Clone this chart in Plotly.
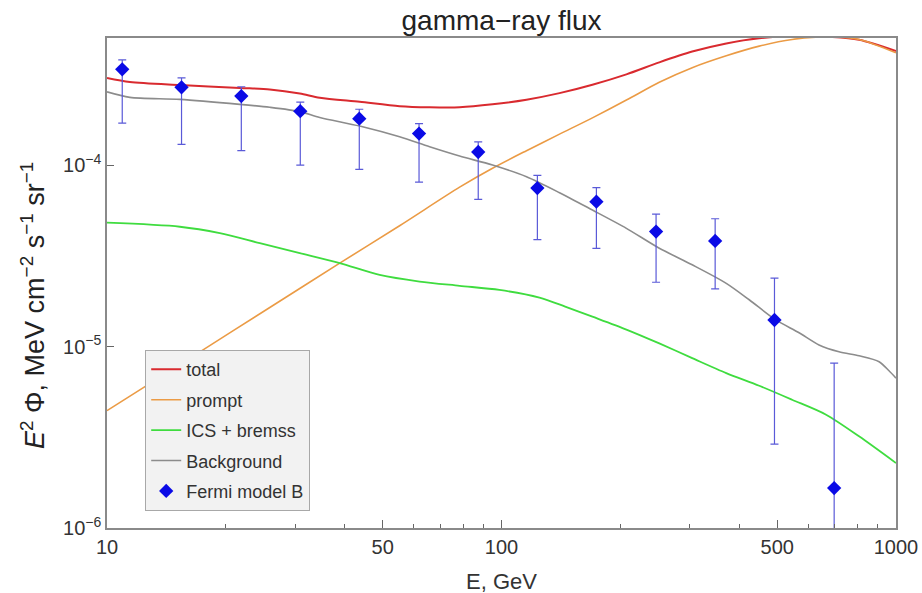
import plotly.graph_objects as go

# ---- data ----
fermi_E = [10.93, 15.45, 21.9, 30.9, 43.6, 61.8, 87.3, 123.3, 174, 246.5, 348, 492, 697]
fermi_val = [3.37e-4, 2.68e-4, 2.40e-4, 1.98e-4, 1.80e-4, 1.49e-4, 1.18e-4, 7.47e-5, 6.28e-5, 4.30e-5, 3.82e-5, 1.40e-5, 1.66e-6]
fermi_hi = [3.8e-4, 3.02e-4, 2.70e-4, 2.22e-4, 2.03e-4, 1.69e-4, 1.34e-4, 8.77e-5, 7.50e-5, 5.37e-5, 5.06e-5, 2.38e-5, 8.11e-6]
fermi_lo = [1.70e-4, 1.30e-4, 1.20e-4, 1.0e-4, 9.46e-5, 8.06e-5, 6.47e-5, 3.88e-5, 3.47e-5, 2.26e-5, 2.08e-5, 2.90e-6, 3.0e-7]

total_E = [10, 11.43, 15.3, 21.71, 25.86, 30.81, 34.62, 43.7, 55.17, 65.73, 78.31, 94.9, 115.7,
           140.3, 170.0, 207.3, 251.2, 304.4, 371.3, 450.1, 545.4, 665.0, 805.8, 1000]
total_val = [3.02e-4, 2.87e-4, 2.76e-4, 2.66e-4, 2.61e-4, 2.48e-4, 2.35e-4, 2.23e-4, 2.11e-4, 2.08e-4,
             2.08e-4, 2.16e-4, 2.29e-4, 2.49e-4, 2.77e-4, 3.16e-4, 3.68e-4, 4.22e-4, 4.68e-4, 5.00e-4,
             5.13e-4, 5.10e-4, 4.90e-4, 4.25e-4]

prompt_E = [10, 17.2, 25.86, 38.9, 55.17, 78.31, 94.9, 115.7, 140.3, 170.0, 207.3, 251.2, 304.4,
            371.3, 450.1, 545.4, 665.0, 805.8, 1000]
prompt_val = [4.43e-6, 9.35e-6, 1.64e-5, 2.88e-5, 4.63e-5, 7.55e-5, 9.6e-5, 1.20e-4, 1.48e-4, 1.82e-4,
              2.28e-4, 2.86e-4, 3.44e-4, 4.0e-4, 4.52e-4, 4.92e-4, 5.08e-4, 4.92e-4, 4.15e-4]

ics_E = [10, 15.3, 19.32, 24.4, 30.81, 38.9, 49.1, 62.0, 78.31, 98.8, 124.8, 145.0, 170.0, 207.3, 251.2,
         304.4, 371.3, 450.1, 545.4, 665.0, 805.8, 1000]
ics_val = [4.81e-5, 4.57e-5, 4.21e-5, 3.71e-5, 3.27e-5, 2.88e-5, 2.48e-5, 2.28e-5, 2.16e-5, 2.05e-5,
           1.86e-5, 1.66e-5, 1.46e-5, 1.24e-5, 1.04e-5, 8.63e-6, 7.14e-6, 6.08e-6, 5.09e-6, 4.21e-6,
           3.20e-6, 2.28e-6]

bg_E = [10, 11.43, 15.3, 21.71, 25.86, 30.81, 34.62, 43.7, 55.17, 65.73, 78.31, 94.9, 115.7, 140.3,
        170.0, 207.3, 251.2, 304.4, 371.3, 424.5, 493.9, 568, 638, 717, 806, 906, 960, 1000]
bg_val = [2.53e-4, 2.36e-4, 2.30e-4, 2.16e-4, 2.08e-4, 1.97e-4, 1.83e-4, 1.64e-4, 1.43e-4, 1.26e-4,
          1.12e-4, 1.0e-4, 8.62e-5, 7.04e-5, 5.65e-5, 4.48e-5, 3.48e-5, 2.82e-5, 2.23e-5, 1.81e-5,
          1.41e-5, 1.19e-5, 1.02e-5, 9.35e-6, 8.89e-6, 8.25e-6, 7.35e-6, 6.70e-6]

x_ticks = [10, 50, 100, 500, 1000]
x_minor = [20, 30, 40, 60, 70, 80, 90, 200, 300, 400, 600, 700, 800, 900]
y_ticks = [1e-6, 1e-5, 1e-4]
y_ticktext = ["10<sup>−6</sup>", "10<sup>−5</sup>", "10<sup>−4</sup>"]

FONT = "Liberation Sans, Arial, sans-serif"

fig = go.Figure()
fig.add_trace(go.Scatter(x=total_E, y=total_val, mode="lines", name="total", legendgroup="a",
                         line=dict(color="#d92a2f", width=2, shape="spline", smoothing=0.8)))
fig.add_trace(go.Scatter(x=prompt_E, y=prompt_val, mode="lines", name="prompt", legendgroup="b",
                         line=dict(color="#eb9b45", width=1.6, shape="spline", smoothing=0.8)))
fig.add_trace(go.Scatter(x=ics_E, y=ics_val, mode="lines", name="ICS + bremss", legendgroup="c",
                         line=dict(color="#3fdc3f", width=1.8, shape="spline", smoothing=0.8)))
fig.add_trace(go.Scatter(x=bg_E, y=bg_val, mode="lines", name="Background", legendgroup="d",
                         line=dict(color="#8c8c8c", width=1.6, shape="spline", smoothing=0.8)))
fig.add_trace(go.Scatter(
    x=fermi_E, y=fermi_val, mode="markers", name="Fermi model B", legendgroup="e",
    marker=dict(symbol="diamond", size=11, color="#0a0ae6"),
    error_y=dict(type="data", symmetric=False,
                 array=[h - v for h, v in zip(fermi_hi, fermi_val)],
                 arrayminus=[v - l for v, l in zip(fermi_val, fermi_lo)],
                 color="#5a5ad8", thickness=1.2, width=4),
))

fig.update_layout(
    width=922, height=593,
    margin=dict(l=107, r=26, t=38, b=65, autoexpand=False),
    paper_bgcolor="white", plot_bgcolor="white",
    font=dict(family=FONT, color="#333333"),
    title=dict(text="gamma−ray flux", x=0.5, xref="paper", xanchor="center",
               y=1 - 20 / 593, yref="container", yanchor="middle",
               font=dict(size=28, color="#222222", family=FONT)),
    showlegend=True,
    legend=dict(x=(145 - 107) / 789, y=(528.3 - 350) / 490.6, xanchor="left", yanchor="top",
                bgcolor="#f2f2f2", bordercolor="#a8a8a8", borderwidth=1.2,
                font=dict(size=18, color="#333333", family=FONT),
                tracegroupgap=4, itemwidth=30),
)

fig.update_xaxes(type="log", range=[1, 3], tickvals=x_ticks, ticktext=[str(v) for v in x_ticks],
                 automargin=False,
                 ticks="inside", ticklen=8, tickwidth=1, tickcolor="#666666",
                 showline=True, linecolor="#8a8a8a", linewidth=1.5, mirror=True,
                 showgrid=False, zeroline=False,
                 tickfont=dict(size=20, color="#333333", family=FONT),
                 minor=dict(tickvals=x_minor, ticks="inside", ticklen=4, tickcolor="#666666", showgrid=False))
fig.update_yaxes(type="log", range=[-6, -3.3], tickvals=y_ticks, ticktext=y_ticktext,
                 automargin=False,
                 ticks="inside", ticklen=7, tickwidth=1, tickcolor="#666666",
                 showline=True, linecolor="#8a8a8a", linewidth=1.5, mirror=True,
                 showgrid=False, zeroline=False,
                 tickfont=dict(size=20, color="#333333", family=FONT))

# axis titles as annotations for precise placement
fig.add_annotation(text="E, GeV", xref="paper", yref="paper", x=0.5, y=(528.3 - 582) / 490.6,
                   xanchor="center", yanchor="middle", showarrow=False,
                   font=dict(size=22, color="#333333", family=FONT))
fig.add_annotation(text="<i>E</i><sup>2</sup> Φ, MeV cm<sup>−2</sup> s<sup>−1</sup> sr<sup>−1</sup>",
                   xref="paper", yref="paper", x=(33 - 107) / 789, y=(528.3 - 306) / 490.6,
                   xanchor="center", yanchor="middle", textangle=-90, showarrow=False,
                   font=dict(size=27, color="#222222", family=FONT))

fig.write_html("out.html", config={"displayModeBar": False},
               post_script="document.body.style.margin='0';")
